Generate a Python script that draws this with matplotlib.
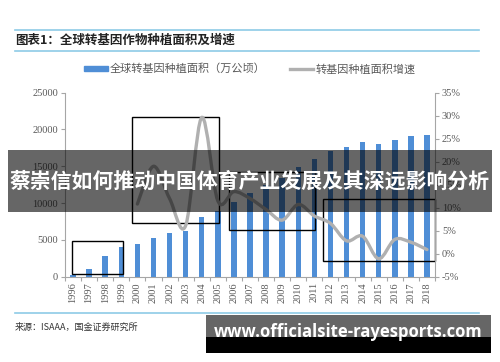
import matplotlib
matplotlib.use('Agg')
import matplotlib.pyplot as plt
from matplotlib.patches import Rectangle, PathPatch
from matplotlib.path import Path
from matplotlib.lines import Line2D
import numpy as np

plt.rcParams['font.family'] = ['Noto Sans CJK SC', 'DejaVu Sans']

years = [str(y) for y in range(1996, 2019)]
area = [170, 1100, 2800, 3990, 4430, 5260, 5890, 6250, 8150, 8970, 10190, 11400,
        12500, 13400, 14860, 16040, 17130, 17590, 18250, 18030, 18570, 19080, 19250]
# growth shown from 2000 on
growth_years = years[4:]
growth = [10.8, 19.0, 12.0, 6.1, 29.6, 11.5, 13.5, 12.0,
          9.6, 7.3, 10.7, 8.2, 6.6, 2.8, 3.8, -1.1, 3.1, 2.5, 0.9]

left_ticks = [0, 5000, 10000, 15000, 20000, 25000]
right_ticks = [-5, 0, 5, 10, 15, 20, 25, 30, 35]

title = '图表1：全球转基因作物种植面积及增速'
bar_label = '全球转基因种植面积（万公顷）'
line_label = '转基因种植面积增速'
source = '来源：ISAAA，国金证券研究所'
overlay = '蔡崇信如何推动中国体育产业发展及其深远影响分析'
site = 'www.officialsite-rayesports.com'

blue = '#4f8ed6'
grey_line = '#b0b0b0'
axis_col = '#a6a6a6'
txt_col = '#595959'
rule_col = '#8dcbe6'
serif = ['Liberation Serif', 'DejaVu Serif']

fig = plt.figure(figsize=(5, 3.62), dpi=100)
ax = fig.add_axes([0.13, 0.2356, 0.74, 0.5084])
ax2 = ax.twinx()

x = np.arange(len(years))
bars = ax.bar(x, area, width=0.34, color=blue, zorder=2)
ax.set_xlim(-0.5, len(years) - 0.5)
ax.set_ylim(0, 25000)
ax2.set_ylim(-5, 35)

# smooth line (Catmull-Rom through the data points)
gx = np.array([years.index(y) for y in growth_years], dtype=float)
gy = np.array(growth, dtype=float)
pts = np.column_stack([gx, gy])
verts = [pts[0]]
codes = [Path.MOVETO]
for i in range(len(pts) - 1):
    p0 = pts[i - 1] if i > 0 else pts[i]
    p1, p2 = pts[i], pts[i + 1]
    p3 = pts[i + 2] if i + 2 < len(pts) else pts[i + 1]
    verts += [p1 + (p2 - p0) / 6, p2 - (p3 - p1) / 6, p2]
    codes += [Path.CURVE4] * 3
ax2.add_patch(PathPatch(Path(verts, codes), fill=False, edgecolor=grey_line,
                        lw=2.4, zorder=3, capstyle='round'))

# boxes drawn on the chart
for (x0, x1, y0, y1) in [(-0.07, 3.13, 330, 4850), (3.65, 9.1, 7240, 21740),
                         (9.69, 15.07, 6400, 14170), (15.55, 22.52, 2130, 10600)]:
    ax.add_patch(Rectangle((x0, y0), x1 - x0, y1 - y0, fill=False,
                           edgecolor='black', lw=1.0, zorder=4, clip_on=False))

for a in (ax, ax2):
    a.spines['top'].set_visible(False)
    for s in ('left', 'right', 'bottom'):
        a.spines[s].set_color(axis_col)
        a.spines[s].set_linewidth(0.8)
ax.spines['right'].set_visible(False)
ax2.spines['left'].set_visible(False)
ax2.spines['bottom'].set_visible(False)

ax.set_yticks(left_ticks)
ax.set_yticklabels([str(v) for v in left_ticks], family=serif, fontsize=7.5, color=txt_col)
ax2.set_yticks(right_ticks)
ax2.set_yticklabels(['%d%%' % v for v in right_ticks], family=serif, fontsize=7.5, color=txt_col)
ax.tick_params(axis='y', length=3, color=axis_col, width=0.8, pad=2)
ax2.tick_params(axis='y', length=3, color=axis_col, width=0.8, pad=2)

ax.set_xticks(x)
ax.set_xticklabels(years, rotation=90, family=serif, fontsize=7.5, color=txt_col)
ax.set_xticks(np.arange(-0.5, len(years), 1), minor=True)
ax.tick_params(axis='x', which='major', length=0, pad=4)
ax.tick_params(axis='x', which='minor', length=3, color=axis_col, width=0.8)

# legend
handles = [Rectangle((0, 0), 1, 1, color=blue), Line2D([], [], color=grey_line, lw=2.4)]
leg = fig.legend(handles, [bar_label, line_label], loc='center', ncol=2,
                 bbox_to_anchor=(0.5, 1 - 69 / 362), frameon=False, fontsize=8,
                 handlelength=2.1, handleheight=0.4, handletextpad=0.2, columnspacing=2.2)
for t in leg.get_texts():
    t.set_color(txt_col)

# header / footer
fig.text(0.03, 1 - 40 / 362, title, fontsize=9, fontweight='bold', va='center', color='#222222')
for yy in (29.7, 51.3, 313.3):
    fig.add_artist(Line2D([0.03, 0.958], [1 - yy / 362] * 2, color=rule_col, lw=1.2))
fig.text(0.03, 1 - 327 / 362, source, fontsize=6.5, va='center', color='#333333')

# overlays
fig.add_artist(Rectangle((8 / 500, 1 - 212 / 362), 484 / 500, 62 / 362,
                         transform=fig.transFigure, color='black', alpha=0.6, lw=0, zorder=10))
fig.text(0.5, 1 - 181 / 362, overlay, fontsize=15, fontweight='bold', color='white',
         ha='center', va='center', zorder=11)
fig.add_artist(Rectangle((206 / 500, 1 - 337.3 / 362), 285 / 500, 22.3 / 362,
                         transform=fig.transFigure, color='#666666', lw=0, zorder=10))
fig.add_artist(Rectangle((206 / 500, 1 - 352.7 / 362), 285 / 500, 15.4 / 362,
                         transform=fig.transFigure, color='black', lw=0, zorder=10))
fig.text(348 / 500, 1 - 332 / 362, site, fontsize=12, fontweight='bold', color='white',
         ha='center', va='center', zorder=11, family=['Open Sans', 'DejaVu Sans'])

fig.savefig('out.png', dpi=100)
